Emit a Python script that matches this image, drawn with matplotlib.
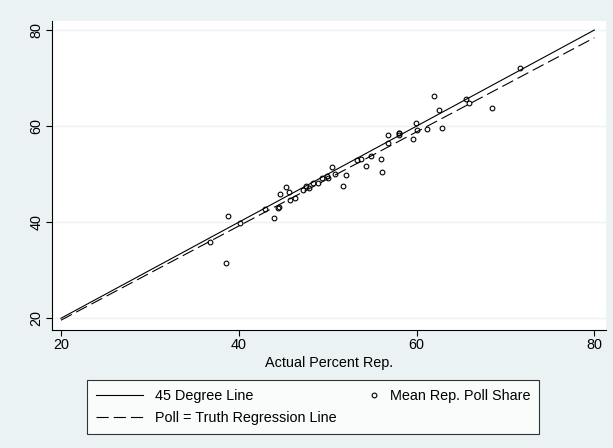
import matplotlib
matplotlib.use('Agg')
import numpy as np
import matplotlib.pyplot as plt
from matplotlib.lines import Line2D
from matplotlib.legend_handler import HandlerLine2D

plt.rcParams['font.family'] = ['Liberation Sans', 'DejaVu Sans']

# resultado real (x) e media das pesquisas (y) por estado
actual = [36.8, 38.6, 38.8, 40.1, 43.0, 44.4, 44.5, 44.0, 44.6, 45.3,
          45.65, 45.8, 46.3, 47.2, 47.6, 47.9, 48.4, 48.9, 49.4, 49.9,
          50.0, 50.45, 50.8, 51.7, 52.1, 53.3, 53.7, 54.3, 54.9, 56.0,
          56.1, 56.75, 56.75, 58.0, 58.05, 58.0, 59.6, 59.9, 60.0, 61.15,
          62.0, 62.5, 62.9, 65.6, 65.9, 68.5, 71.6]
poll = [35.8, 31.5, 41.2, 39.8, 42.8, 43.0, 43.1, 40.9, 45.9, 47.4,
        46.35, 44.6, 45.1, 46.8, 47.6, 47.05, 48.1, 48.1, 49.3, 49.6,
        49.3, 51.55, 50.0, 47.6, 49.8, 52.95, 53.1, 51.6, 53.8, 53.2,
        50.5, 56.4, 58.15, 58.5, 58.6, 58.2, 57.25, 60.7, 59.1, 59.5,
        66.3, 63.3, 59.7, 65.6, 64.9, 63.8, 72.2]

# reta de regressao (intercepto, inclinacao)
reg_intercept = 0.0
reg_slope = 0.98

x_ticks = [20, 40, 60, 80]
y_ticks = [20, 40, 60, 80]

bg = '#eaf2f3'
fs = 10.4
tracos = (11, 4.5)


# marcador da legenda encostado no texto (lado direito da chave)
class MarcadorDireita(HandlerLine2D):
    def create_artists(self, legend, orig_handle, xdescent, ydescent,
                       width, height, fontsize, trans):
        arts = super().create_artists(legend, orig_handle, xdescent, ydescent,
                                      width, height, fontsize, trans)
        x = width - xdescent - 3
        for a in arts:
            a.set_xdata([x - 1, x, x + 1])
        return arts


fig = plt.figure(figsize=(6.13, 4.48), dpi=100, facecolor=bg)
ax = fig.add_axes([0.0848, 0.2634, 0.9032, 0.6896])
ax.set_facecolor('white')

linha = np.array([20, 80])
ax.plot(linha, linha, color='black', lw=0.8)
reg, = ax.plot(linha, reg_intercept + reg_slope * linha, color='black', lw=0.8)
reg.set_dashes(tracos)
ax.plot(actual, poll, 'o', mfc='none', mec='black', ms=3.4, mew=0.8)

ax.set_xlim(18.99, 81.27)
ax.set_ylim(17.56, 81.87)
ax.set_xticks(x_ticks)
ax.set_yticks(y_ticks)
ax.set_yticklabels([str(t) for t in y_ticks], rotation=90, va='center')
ax.tick_params(labelsize=fs, length=4, width=0.8, pad=2)
ax.grid(axis='y', color=bg, lw=1)
ax.set_axisbelow(True)
for s in ['top', 'right']:
    ax.spines[s].set_visible(False)
for s in ['left', 'bottom']:
    ax.spines[s].set_linewidth(0.8)
ax.set_xlabel('Actual Percent Rep.', fontsize=fs, labelpad=3)

h_reta = Line2D([], [], color='black', lw=0.8)
h_reg = Line2D([], [], color='black', lw=0.8, dashes=tracos)
h_pts = Line2D([], [], ls='none', marker='o', mfc='none', mec='black', ms=3.4, mew=0.8)
leg = fig.legend([h_reta, h_reg, h_pts],
                 ['45 Degree Line', 'Poll = Truth Regression Line', 'Mean Rep. Poll Share'],
                 loc='upper left', ncol=2,
                 bbox_to_anchor=(0.142, 0.152, 0.737, 0.0), mode='expand',
                 borderaxespad=0, fontsize=fs, frameon=True, fancybox=False,
                 edgecolor='black', handlelength=3.3, handletextpad=0.8,
                 borderpad=0.6, labelspacing=0.6, columnspacing=1.0,
                 handler_map={h_pts: MarcadorDireita()})
leg.get_frame().set_linewidth(0.8)

plt.savefig('out.png', dpi=100, facecolor=bg)
plt.close()
